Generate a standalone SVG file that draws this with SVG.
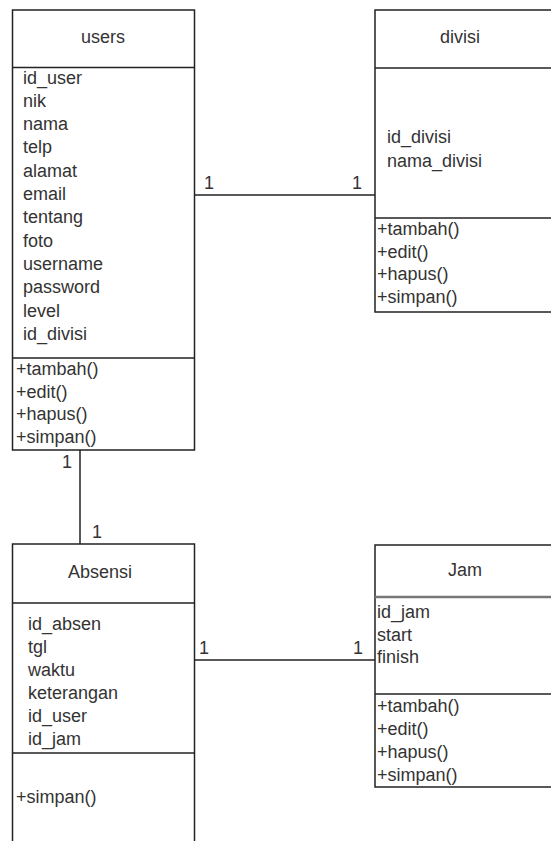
<svg xmlns="http://www.w3.org/2000/svg" width="551" height="841" viewBox="0 0 551 841">
<style>
.box{fill:#fff;stroke:#222;stroke-width:1.5}
.ln{stroke:#222;stroke-width:1.5;fill:none}
text{font-family:"Liberation Sans",Arial,sans-serif;font-size:18px;fill:#333}
.c{text-anchor:middle}
</style>
<rect width="551" height="841" fill="#fff"/>
<g id="connectors">
<line class="ln" x1="194" y1="195" x2="375" y2="195"/>
<line class="ln" x1="80" y1="450" x2="80" y2="544"/>
<line class="ln" x1="194" y1="660" x2="375" y2="660"/>
<text x="204" y="189">1</text>
<text x="352" y="189">1</text>
<text x="62" y="468">1</text>
<text x="92" y="538">1</text>
<text x="199" y="654">1</text>
<text x="353" y="654">1</text>
</g>
<g id="users">
<rect class="box" x="12.5" y="10" width="182" height="440"/>
<line class="ln" x1="12.5" y1="67.5" x2="194.5" y2="67.5"/>
<line class="ln" x1="12.5" y1="358" x2="194.5" y2="358"/>
<text class="c" x="103" y="43">users</text>
<text x="23" y="83.5">id_user</text>
<text x="23" y="106.8">nik</text>
<text x="23" y="130.1">nama</text>
<text x="23" y="153.4">telp</text>
<text x="23" y="176.7">alamat</text>
<text x="23" y="200">email</text>
<text x="23" y="223.3">tentang</text>
<text x="23" y="246.6">foto</text>
<text x="23" y="269.9">username</text>
<text x="23" y="293.2">password</text>
<text x="23" y="316.5">level</text>
<text x="23" y="339.8">id_divisi</text>
<text x="16" y="375">+tambah()</text>
<text x="16" y="397.5">+edit()</text>
<text x="16" y="420">+hapus()</text>
<text x="16" y="443">+simpan()</text>
</g>
<g id="divisi">
<rect class="box" x="375" y="10" width="190" height="302"/>
<line class="ln" x1="375" y1="68" x2="565" y2="68"/>
<line class="ln" x1="375" y1="218" x2="565" y2="218"/>
<text class="c" x="460" y="43">divisi</text>
<text x="387" y="143">id_divisi</text>
<text x="387" y="167">nama_divisi</text>
<text x="377" y="235">+tambah()</text>
<text x="377" y="257.5">+edit()</text>
<text x="377" y="280">+hapus()</text>
<text x="377" y="303">+simpan()</text>
</g>
<g id="absensi">
<rect class="box" x="12.5" y="544" width="182" height="320"/>
<line class="ln" x1="12.5" y1="603" x2="194.5" y2="603"/>
<line class="ln" x1="12.5" y1="753" x2="194.5" y2="753"/>
<text class="c" x="100" y="578">Absensi</text>
<text x="28" y="630">id_absen</text>
<text x="28" y="653">tgl</text>
<text x="28" y="676">waktu</text>
<text x="28" y="699">keterangan</text>
<text x="28" y="722">id_user</text>
<text x="28" y="745">id_jam</text>
<text x="16" y="803">+simpan()</text>
</g>
<g id="jam">
<rect class="box" x="375" y="545" width="190" height="242"/>
<line x1="375" y1="597" x2="565" y2="597" stroke="#777" stroke-width="2.5"/>
<line class="ln" x1="375" y1="694" x2="565" y2="694"/>
<text class="c" x="465" y="576">Jam</text>
<text x="377" y="618">id_jam</text>
<text x="377" y="641">start</text>
<text x="377" y="663">finish</text>
<text x="377" y="712">+tambah()</text>
<text x="377" y="735">+edit()</text>
<text x="377" y="758">+hapus()</text>
<text x="377" y="781">+simpan()</text>
</g>
</svg>
